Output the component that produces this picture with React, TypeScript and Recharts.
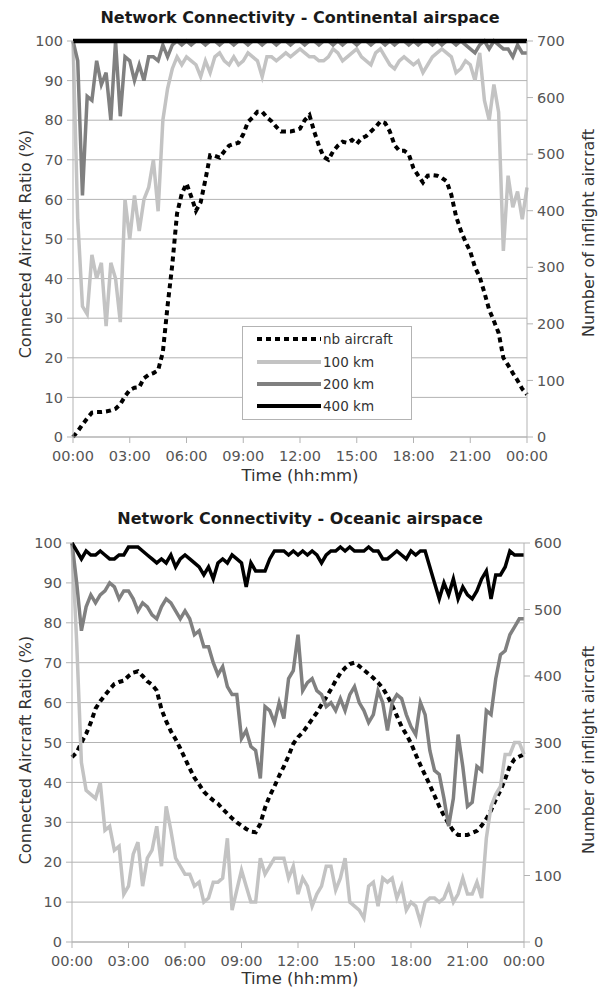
import React from 'react';
import { LineChart, Line, XAxis, YAxis, CartesianGrid } from 'recharts';

// ---------- axis ticks ----------
const HOUR_TICKS = [0, 3, 6, 9, 12, 15, 18, 21, 24];
const PCT_TICKS = [0, 10, 20, 30, 40, 50, 60, 70, 80, 90, 100];
const CONT_COUNT_TICKS = [0, 100, 200, 300, 400, 500, 600, 700];
const OCEAN_COUNT_TICKS = [0, 100, 200, 300, 400, 500, 600];
const STEP_HOURS = 0.25; // one sample every 15 minutes, 00:00 .. 24:00

// ---------- Continental airspace ----------
const contNb = [
  0, 10, 22, 33, 43, 44, 44, 45, 47, 50, 58, 72, 83, 87, 88, 104,
  110, 113, 118, 150, 232, 305, 395, 430, 448, 425, 400, 415, 455, 498, 497, 494,
  505, 515, 518, 520, 535, 557, 565, 575, 575, 565, 558, 548, 540, 540, 540, 542,
  545, 560, 569, 540, 515, 495, 490, 505, 515, 522, 520, 525, 518, 528, 532, 540,
  548, 558, 555, 540, 516, 506, 506, 500, 475, 462, 450, 462, 463, 462, 458, 452,
  428, 390, 365, 345, 328, 300, 283, 255, 225, 205, 184, 140, 127, 113, 100, 85,
  75,
];
const cont100 = [
  100, 55, 33, 31, 46, 40, 44, 28, 44, 40, 29, 60, 50, 61, 52, 60,
  63, 70, 57, 80, 88, 93, 96, 94, 96, 95, 94, 91, 95, 92, 96, 97,
  95, 94, 96, 94, 95, 97, 96, 95, 91, 96, 96, 95, 96, 97, 96, 97,
  98, 97, 96, 96, 95, 95, 96, 98, 97, 95, 96, 97, 98, 96, 95, 94,
  97, 98, 96, 94, 93, 95, 96, 95, 94, 95, 92, 94, 96, 97, 98, 97,
  96, 92, 93, 95, 94, 90, 97, 85, 80, 89, 82, 47, 66, 58, 62, 55,
  63,
];
const cont200 = [
  100, 95, 61, 86, 85, 95, 89, 92, 80, 100, 81, 96, 95, 90, 94, 90,
  96, 96, 95, 99, 96, 99, 100, 99, 100, 99, 100, 100, 99, 100, 100, 99,
  100, 100, 99, 100, 100, 99, 100, 100, 99, 100, 100, 99, 100, 100, 99, 100,
  100, 99, 100, 100, 99, 100, 100, 99, 100, 99, 100, 100, 99, 100, 100, 99,
  100, 100, 99, 100, 99, 100, 100, 99, 100, 99, 100, 100, 99, 100, 99, 100,
  100, 99, 100, 99, 98, 97, 99, 100, 98, 100, 99, 98, 98, 96, 99, 97,
  97,
];
const cont400 = [
  100, 100, 100, 100, 100, 100, 100, 100, 100, 100, 100, 100, 100, 100, 100, 100,
  100, 100, 100, 100, 100, 100, 100, 100, 100, 100, 100, 100, 100, 100, 100, 100,
  100, 100, 100, 100, 100, 100, 100, 100, 100, 100, 100, 100, 100, 100, 100, 100,
  100, 100, 100, 100, 100, 100, 100, 100, 100, 100, 100, 100, 100, 100, 100, 100,
  100, 100, 100, 100, 100, 100, 100, 100, 100, 100, 100, 100, 100, 100, 100, 100,
  100, 100, 100, 100, 100, 100, 100, 100, 100, 100, 100, 100, 100, 100, 100, 100,
  100,
];

// ---------- Oceanic airspace ----------
const oceanNb = [
  278, 285, 300, 313, 330, 351, 362, 371, 380, 388, 391, 393, 400, 405, 407, 400,
  392, 387, 378, 350, 332, 317, 305, 291, 276, 261, 247, 237, 226, 219, 213, 208,
  200, 193, 186, 180, 175, 170, 166, 165, 178, 202, 220, 234, 250, 264, 280, 298,
  308, 315, 325, 335, 345, 357, 368, 380, 393, 404, 412, 418, 420, 415, 409, 403,
  397, 390, 382, 370, 356, 340, 324, 312, 299, 282, 266, 251, 236, 220, 204, 190,
  178, 167, 161, 161, 161, 164, 167, 175, 185, 198, 214, 228, 245, 265, 275, 279,
  282,
];
const ocean100 = [
  100, 75, 45, 38, 37, 36, 40, 28, 29, 23, 24, 12, 14, 22, 25, 14,
  21, 23, 29, 19, 34, 28, 21, 19, 17, 17, 14, 15, 10, 11, 15, 15,
  16, 26, 8, 13, 18, 14, 10, 10, 21, 17, 19, 21, 21, 21, 16, 19,
  12, 16, 14, 9, 12, 14, 19, 19, 13, 16, 21, 10, 9, 8, 6, 14,
  15, 9, 16, 15, 16, 11, 14, 8, 10, 9, 5, 10, 11, 11, 10, 11,
  14, 10, 12, 16, 12, 12, 15, 11, 26, 34, 37, 39, 47, 47, 50, 50,
  47,
];
const ocean200 = [
  100, 90, 78, 84, 87, 85, 87, 88, 90, 89, 86, 88, 88, 86, 83, 85,
  84, 82, 81, 84, 86, 85, 83, 81, 83, 81, 77, 78, 74, 74, 70, 67,
  69, 64, 62, 62, 51, 53, 49, 48, 41, 59, 58, 55, 60, 56, 66, 68,
  77, 63, 65, 66, 63, 62, 59, 60, 58, 61, 58, 62, 64, 60, 58, 55,
  57, 63, 60, 53, 60, 62, 61, 57, 54, 52, 60, 57, 48, 43, 42, 36,
  29, 36, 52, 44, 34, 35, 44, 43, 58, 57, 66, 72, 73, 77, 79, 81,
  81,
];
const ocean400 = [
  100, 98, 96, 98, 97, 97, 98, 97, 96, 96, 97, 97, 99, 99, 99, 98,
  97, 96, 95, 96, 95, 97, 94, 96, 97, 96, 95, 94, 92, 94, 91, 95,
  96, 95, 97, 96, 95, 89, 95, 93, 93, 93, 96, 98, 98, 98, 97, 98,
  97, 98, 97, 98, 97, 95, 97, 98, 98, 99, 98, 99, 98, 98, 98, 99,
  98, 98, 96, 96, 97, 98, 97, 96, 98, 97, 98, 98, 94, 90, 86, 90,
  87, 91, 86, 89, 87, 86, 88, 91, 93, 86, 92, 92, 94, 98, 97, 97,
  97,
];

const SERIES_NAMES = ['nb aircraft', '100 km', '200 km', '400 km'];

const FONT = '"DejaVu Sans", "Liberation Sans", sans-serif';
const GRID = '#b3b3b3';
const C100 = '#c3c3c3';
const C200 = '#808080';
const C400 = '#000000';

function buildRows(nb: number[], r100: number[], r200: number[], r400: number[]) {
  return nb.map((n, i) => ({ t: i * STEP_HOURS, nb: n, r100: r100[i], r200: r200[i], r400: r400[i] }));
}

const contRows = buildRows(contNb, cont100, cont200, cont400);
const oceanRows = buildRows(oceanNb, ocean100, ocean200, ocean400);

const fmtHour = (h: number) => `${String(h % 24).padStart(2, '0')}:00`;

const tickStyle = { fill: '#555555', fontSize: 14.5, fontFamily: FONT };

type ChartProps = {
  title: string;
  rows: any[];
  countMax: number;
  countTicks: number[];
  top: number;
  height: number;
  margin: { top: number; right: number; bottom: number; left: number };
  leftW: number;
  rightW: number;
  titleY: number;
  yLabelY: number;
  rLabelY: number;
  xLabelY: number;
  lw400: number;
};

function Abs({ x, y, rotate, style, children }: any) {
  return (
    <div
      style={{
        position: 'absolute',
        left: x,
        top: y,
        transform: `translate(-50%, -50%)${rotate ? ` rotate(${rotate}deg)` : ''}`,
        whiteSpace: 'nowrap',
        fontFamily: FONT,
        ...style,
      }}
    >
      {children}
    </div>
  );
}

function ConnectivityChart(p: ChartProps) {
  return (
    <div style={{ position: 'absolute', left: 0, top: p.top, width: 599, height: p.height }}>
      <LineChart width={599} height={p.height} data={p.rows} margin={p.margin}>
        <CartesianGrid yAxisId="left" vertical={false} stroke={GRID} strokeWidth={1} />
        <XAxis
          dataKey="t"
          type="number"
          domain={[0, 24]}
          ticks={HOUR_TICKS}
          tickFormatter={fmtHour}
          stroke={GRID}
          tick={tickStyle}
          tickSize={6}
          tickMargin={8}
          height={30}
          interval={0}
        />
        <YAxis
          yAxisId="left"
          orientation="left"
          domain={[0, 100]}
          ticks={PCT_TICKS}
          width={p.leftW}
          stroke={GRID}
          tick={tickStyle}
          tickSize={6}
          tickMargin={4}
          interval={0}
        />
        <YAxis
          yAxisId="right"
          orientation="right"
          domain={[0, p.countMax]}
          ticks={p.countTicks}
          width={p.rightW}
          stroke={GRID}
          tick={tickStyle}
          tickSize={6}
          tickMargin={4}
          interval={0}
        />
        <Line yAxisId="right" dataKey="nb" name={SERIES_NAMES[0]} stroke="#000" strokeWidth={4} strokeDasharray="5 4" dot={false} isAnimationActive={false} />
        <Line yAxisId="left" dataKey="r100" name={SERIES_NAMES[1]} stroke={C100} strokeWidth={3.5} dot={false} isAnimationActive={false} />
        <Line yAxisId="left" dataKey="r200" name={SERIES_NAMES[2]} stroke={C200} strokeWidth={3.5} dot={false} isAnimationActive={false} />
        <Line yAxisId="left" dataKey="r400" name={SERIES_NAMES[3]} stroke={C400} strokeWidth={p.lw400} dot={false} isAnimationActive={false} />
      </LineChart>
      <Abs x={300} y={p.titleY} style={{ fontSize: 16, fontWeight: 'bold', color: '#1a1a1a' }}>{p.title}</Abs>
      <Abs x={25} y={p.yLabelY} rotate={-90} style={{ fontSize: 16, color: '#333' }}>Connected Aircraft Ratio (%)</Abs>
      <Abs x={588} y={p.rLabelY} rotate={-90} style={{ fontSize: 16, color: '#333' }}>Number of inflight aircraft</Abs>
      <Abs x={300} y={p.xLabelY} style={{ fontSize: 16.5, color: '#333' }}>Time (hh:mm)</Abs>
    </div>
  );
}

function LegendBox() {
  const items = [
    { name: SERIES_NAMES[0], color: '#000', w: 4, dash: '5 4' },
    { name: SERIES_NAMES[1], color: C100, w: 4, dash: undefined },
    { name: SERIES_NAMES[2], color: C200, w: 4, dash: undefined },
    { name: SERIES_NAMES[3], color: C400, w: 4, dash: undefined },
  ];
  const rowY = [12, 35, 57, 79];
  return (
    <div
      style={{
        position: 'absolute',
        left: 242,
        top: 326,
        width: 168,
        height: 92,
        border: `1px solid ${GRID}`,
        background: '#fff',
        fontFamily: FONT,
      }}
    >
      {items.map((it, i) => (
        <div key={it.name} style={{ position: 'absolute', left: 0, top: rowY[i] - 9, height: 18, width: 168 }}>
          <svg width={66} height={18} style={{ position: 'absolute', left: 14, top: 0 }}>
            <line x1={0} y1={9} x2={64} y2={9} stroke={it.color} strokeWidth={it.w} strokeDasharray={it.dash} />
          </svg>
          <span style={{ position: 'absolute', left: 80, top: 0, lineHeight: '18px', fontSize: 13.5, color: '#333' }}>{it.name}</span>
        </div>
      ))}
    </div>
  );
}

export default function App() {
  return (
    <div style={{ position: 'absolute', left: 0, top: 0, width: 599, height: 992, background: '#fff' }}>
      <ConnectivityChart
        title="Network Connectivity - Continental airspace"
        rows={contRows}
        countMax={700}
        countTicks={CONT_COUNT_TICKS}
        top={0}
        height={495}
        margin={{ top: 41, right: 0, bottom: 28, left: 0 }}
        leftW={73}
        rightW={72}
        titleY={17}
        yLabelY={244}
        rLabelY={233}
        xLabelY={475}
        lw400={4.5}
      />
      <LegendBox />
      <ConnectivityChart
        title="Network Connectivity - Oceanic airspace"
        rows={oceanRows}
        countMax={600}
        countTicks={OCEAN_COUNT_TICKS}
        top={500}
        height={492}
        margin={{ top: 43, right: 0, bottom: 20, left: 0 }}
        leftW={72}
        rightW={75}
        titleY={18}
        yLabelY={250}
        rLabelY={250}
        xLabelY={478}
        lw400={3.5}
      />
    </div>
  );
}
